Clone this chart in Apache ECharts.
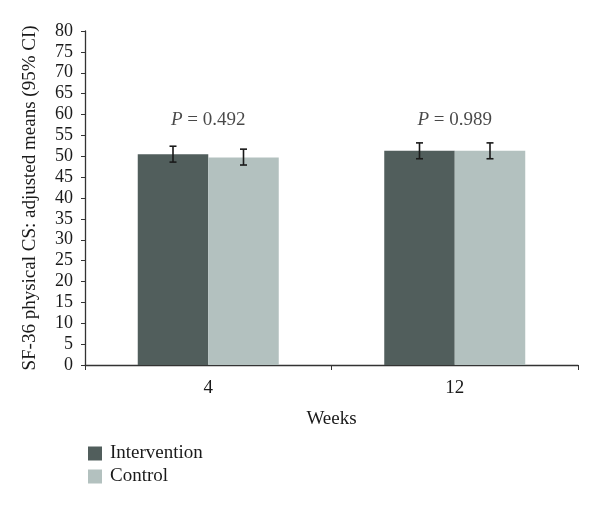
<!DOCTYPE html>
<html>
<head>
<meta charset="utf-8">
<script src="https://cdn.jsdelivr.net/npm/echarts@6/dist/echarts.min.js"></script>
<style>html,body{margin:0;padding:0;background:#fff}#c{width:600px;height:508px}</style>
</head>
<body>
<div id="c"></div>
<script>
var categories = ['4', '12'];
var seriesNames = ['Intervention', 'Control'];
var interventionMeans = [50.5, 51.3];
var interventionLow = [48.6, 49.4];
var interventionHigh = [52.4, 53.2];
var controlMeans = [49.7, 51.3];
var controlLow = [47.9, 49.4];
var controlHigh = [51.7, 53.2];
var pValues = ['0.492', '0.989'];
var pLabelY = [58.7, 58.7];
var yTicks = {min: 0, max: 80, interval: 5};

var FONT = 'Liberation Serif';
var colors = ['#515e5c', '#b3c1bf'];
var BAR_FRAC = 0.286;

var chart = echarts.init(document.getElementById('c'), null, {renderer: 'canvas'});

function errItem(sideSign) {
  return function (params, api) {
    var idx = api.value(0);
    var lo = api.coord([idx, api.value(1)]);
    var hi = api.coord([idx, api.value(2)]);
    var catW = api.size([1, 0])[0];
    var bw = catW * BAR_FRAC;
    var x = lo[0] + sideSign * bw / 2;
    var cap = 3.5;
    var st = {stroke: '#1a1a1a', lineWidth: 1.6};
    return {
      type: 'group',
      children: [
        {type: 'line', shape: {x1: x, y1: lo[1], x2: x, y2: hi[1]}, style: st},
        {type: 'line', shape: {x1: x - cap, y1: lo[1], x2: x + cap, y2: lo[1]}, style: st},
        {type: 'line', shape: {x1: x - cap, y1: hi[1], x2: x + cap, y2: hi[1]}, style: st}
      ]
    };
  };
}

var option = {
  animation: false,
  backgroundColor: '#fff',
  textStyle: {fontFamily: FONT},
  grid: {left: 85, right: 22, top: 31, bottom: 143, containLabel: false},
  legend: {
    orient: 'vertical', left: 83, top: 439,
    itemWidth: 14, itemHeight: 14, itemGap: 4,
    icon: 'rect',
    data: seriesNames,
    textStyle: {fontFamily: FONT, fontSize: 19, color: '#1a1a1a', padding: [0, 0, 0, 3]}
  },
  xAxis: {
    type: 'category', data: categories,
    name: 'Weeks', nameLocation: 'middle', nameGap: 45,
    nameTextStyle: {fontFamily: FONT, fontSize: 19, color: '#1a1a1a'},
    axisLine: {lineStyle: {color: '#333', width: 1.3}},
    axisTick: {show: true, length: 5, lineStyle: {color: '#333'}},
    axisLabel: {fontFamily: FONT, fontSize: 19, color: '#1a1a1a', margin: 14},
    splitLine: {show: false}
  },
  yAxis: {
    type: 'value', min: yTicks.min, max: yTicks.max, interval: yTicks.interval,
    name: 'SF-36 physical CS: adjusted means (95% CI)', nameLocation: 'middle', nameGap: 45,
    nameRotate: 90,
    nameTextStyle: {fontFamily: FONT, fontSize: 19, color: '#1a1a1a'},
    axisLine: {show: true, lineStyle: {color: '#333', width: 1.3}},
    axisTick: {show: true, length: 4, lineStyle: {color: '#333'}},
    axisLabel: {fontFamily: FONT, fontSize: 18, color: '#1a1a1a', margin: 12},
    splitLine: {show: false}
  },
  series: [
    {name: seriesNames[0], type: 'bar', data: interventionMeans, barWidth: (BAR_FRAC * 100) + '%', barGap: '0%',
      itemStyle: {color: colors[0]}},
    {name: seriesNames[1], type: 'bar', data: controlMeans, barWidth: (BAR_FRAC * 100) + '%', barGap: '0%',
      itemStyle: {color: colors[1]}},
    {type: 'custom', renderItem: errItem(-1), z: 10,
      data: categories.map(function (c, i) { return [i, interventionLow[i], interventionHigh[i]]; })},
    {type: 'custom', renderItem: errItem(1), z: 10,
      data: categories.map(function (c, i) { return [i, controlLow[i], controlHigh[i]]; })},
    {type: 'scatter', symbolSize: 0, silent: true,
      data: categories.map(function (c, i) { return [i, pLabelY[i]]; }),
      label: {show: true, position: 'inside',
        formatter: function (p) { return '{i|P} = ' + pValues[p.dataIndex]; },
        fontFamily: FONT, fontSize: 19, color: '#1a1a1a',
        rich: {i: {fontFamily: FONT, fontSize: 19, fontStyle: 'italic', color: '#1a1a1a'}}
      }}
  ]
};
chart.setOption(option);
</script>
</body>
</html>
